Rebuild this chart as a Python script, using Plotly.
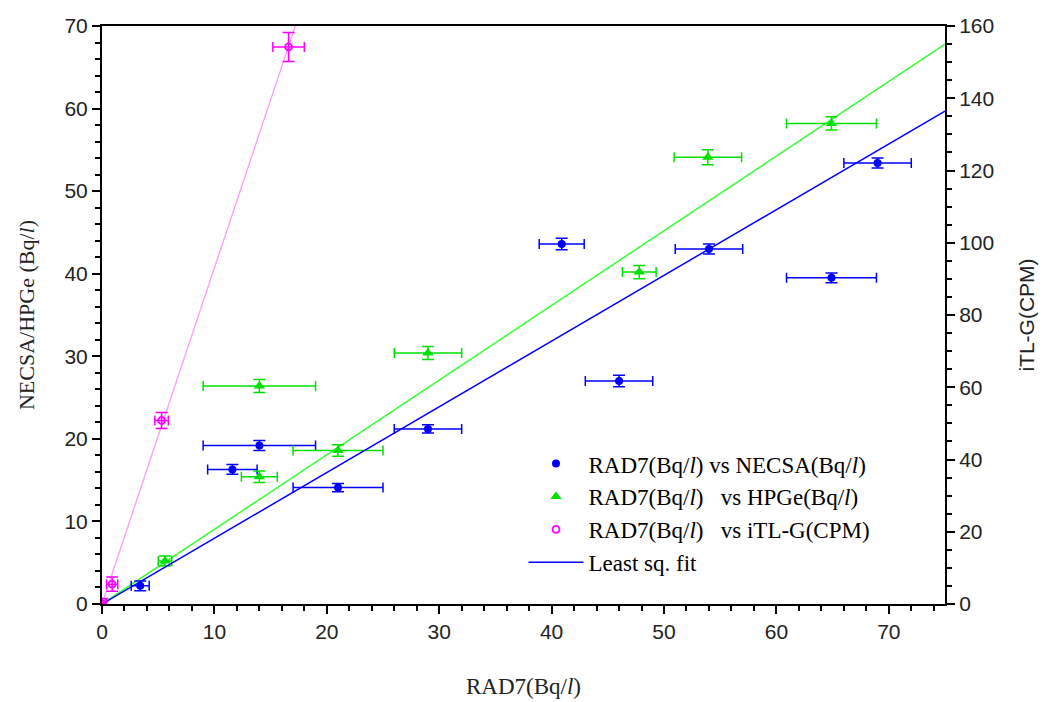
import plotly.graph_objects as go

# NECSA vs RAD7 (left axis)
necsa_x = [0, 3.4, 11.6, 14.0, 21.0, 29.0, 40.9, 46.0, 54.0, 64.9, 69.0]
necsa_y = [0, 2.2, 16.3, 19.2, 14.1, 21.2, 43.6, 27.0, 43.0, 39.5, 53.4]
necsa_xerr = [0.3, 0.8, 2.2, 5.0, 4.0, 3.0, 2.0, 3.0, 3.0, 4.0, 3.0]
necsa_yerr = [0.3, 0.6, 0.6, 0.6, 0.5, 0.5, 0.7, 0.7, 0.6, 0.6, 0.6]

# HPGe vs RAD7 (left axis)
hpge_x = [0, 5.6, 14.0, 14.0, 21.0, 29.0, 47.8, 53.9, 64.9]
hpge_y = [0, 5.2, 15.4, 26.4, 18.6, 30.4, 40.2, 54.1, 58.2]
hpge_xerr = [0.3, 0.6, 1.6, 5.0, 4.0, 3.0, 1.5, 3.0, 4.0]
hpge_yerr = [0.3, 0.6, 0.7, 0.8, 0.7, 0.8, 0.8, 0.9, 0.8]

# iTL-G vs RAD7 (right axis)
itl_x = [0, 0.9, 5.3, 16.6]
itl_y = [0, 5.5, 50.8, 154.2]
itl_xerr = [0.4, 0.5, 0.6, 1.4]
itl_yerr = [1.5, 2.0, 2.2, 4.0]

# least squares fit lines (endpoints)
fit_x = [0, 75]
necsa_fit_y = [0, 59.7]
hpge_fit_y = [0, 67.8]
itl_fit_x = [0, 17.2]
itl_fit_y = [0, 160]

BLUE = "#0000ff"
GREEN = "#00e000"
PINK = "#ff00ff"
SERIF = "Liberation Serif"
SANS = "Liberation Sans"

fig = go.Figure()

fig.add_trace(go.Scatter(
    x=fit_x, y=hpge_fit_y, mode="lines", line=dict(color="#33ff33", width=1.5),
    showlegend=False, hoverinfo="skip"))
fig.add_trace(go.Scatter(
    x=itl_fit_x, y=itl_fit_y, mode="lines", yaxis="y2",
    line=dict(color="#ff99ff", width=1.3), showlegend=False, hoverinfo="skip"))

fig.add_trace(go.Scatter(
    x=necsa_x, y=necsa_y, mode="markers", name="RAD7(Bq/<i>l</i>) vs NECSA(Bq/<i>l</i>)",
    marker=dict(symbol="circle", size=8, color=BLUE),
    error_x=dict(type="data", array=necsa_xerr, color=BLUE, thickness=1.5, width=5),
    error_y=dict(type="data", array=necsa_yerr, color=BLUE, thickness=1.5, width=6)))
fig.add_trace(go.Scatter(
    x=hpge_x, y=hpge_y, mode="markers", name="RAD7(Bq/<i>l</i>)&nbsp;&nbsp; vs HPGe(Bq/<i>l</i>)",
    marker=dict(symbol="triangle-up", size=10, color=GREEN),
    error_x=dict(type="data", array=hpge_xerr, color=GREEN, thickness=1.5, width=5),
    error_y=dict(type="data", array=hpge_yerr, color=GREEN, thickness=1.5, width=6)))
fig.add_trace(go.Scatter(
    x=itl_x, y=itl_y, mode="markers", yaxis="y2", name="RAD7(Bq/<i>l</i>)&nbsp;&nbsp; vs iTL-G(CPM)",
    marker=dict(symbol="circle-open", size=7, color=PINK, line=dict(width=1.8)),
    error_x=dict(type="data", array=itl_xerr, color=PINK, thickness=1.5, width=5),
    error_y=dict(type="data", array=itl_yerr, color=PINK, thickness=1.5, width=6)))
fig.add_trace(go.Scatter(
    x=fit_x, y=necsa_fit_y, mode="lines", name="Least sq. fit",
    line=dict(color=BLUE, width=1.5), hoverinfo="skip"))

axis_common = dict(showgrid=False, zeroline=False, showline=True, linecolor="black",
                   linewidth=2, ticks="outside", tickcolor="black", tickwidth=1.5,
                   ticklen=8, tickfont=dict(family=SANS, size=21, color="#222"),
                   automargin=False)

fig.update_layout(
    width=1053, height=702,
    margin=dict(l=102, r=108, t=26, b=98),
    paper_bgcolor="white", plot_bgcolor="white",
    showlegend=True,
    legend=dict(x=0.50, y=0.28, xanchor="left", yanchor="top",
                bgcolor="rgba(0,0,0,0)", font=dict(family=SERIF, size=23, color="black"),
                itemwidth=55, tracegroupgap=0),
    xaxis=dict(range=[0, 75], dtick=10, tick0=0, mirror=True,
               minor=dict(dtick=2, ticks="outside", ticklen=5, tickcolor="black"),
               title=dict(text="RAD7(Bq/<i>l</i>)", font=dict(family=SERIF, size=23, color="#222"),
                          standoff=36),
               **axis_common),
    yaxis=dict(range=[0, 70], dtick=10, tick0=0,
               minor=dict(dtick=2, ticks="outside", ticklen=5, tickcolor="black"),
               title=dict(text="NECSA/HPGe (Bq/<i>l</i>)", font=dict(family=SERIF, size=22, color="#222"),
                          standoff=24),
               **axis_common),
    yaxis2=dict(range=[0, 160], dtick=20, tick0=0, overlaying="y", side="right",
                minor=dict(dtick=5, ticks="outside", ticklen=5, tickcolor="black"),
                title=dict(text="iTL-G(CPM)", font=dict(family=SANS, size=21, color="#222"),
                           standoff=26),
                **axis_common),
)

fig.write_html("out.html")
